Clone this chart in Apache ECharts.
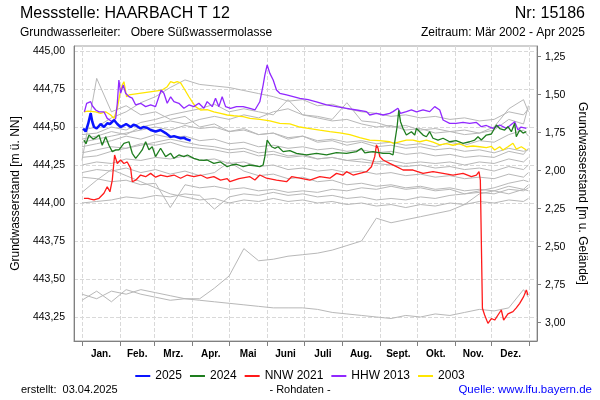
<!DOCTYPE html>
<html>
<head>
<meta charset="utf-8">
<script src="https://cdn.jsdelivr.net/npm/echarts@6/dist/echarts.min.js"></script>
<style>
    html, body { margin: 0; padding: 0; background: #fff; }
    #chart { width: 600px; height: 400px; }
</style>
</head>
<body>
<div id="chart"></div>
<script>
    // Achsen: Tag im Jahr (0 = 1. Jan.)
    const monthStarts = [0, 31, 59, 90, 120, 151, 181, 212, 243, 273, 304, 334, 365];
    const monthMids = [15.5, 45, 74.5, 105, 135.5, 166, 196.5, 227.5, 258, 288.5, 319, 349.5];
    const monthNames = ['Jan.', 'Feb.', 'Mrz.', 'Apr.', 'Mai', 'Juni', 'Juli', 'Aug.', 'Sept.', 'Okt.', 'Nov.', 'Dez.'];
    const levelTicks = [443.25, 443.5, 443.75, 444, 444.25, 444.5, 444.75, 445];
    const depthTicks = [1.25, 1.5, 1.75, 2, 2.25, 2.5, 2.75, 3];
    const groundLevel = 446.2125;
    const levelMin = 443.092;
    const levelMax = 445.033;

    // Jahresgänge aller übrigen Jahre (grau), gemeinsames Tagesraster
    const greyDays = [0, 12, 24, 36, 48, 60, 72, 84, 96, 108, 120, 132, 144, 156, 168, 180, 192, 204, 216, 228, 240, 252, 264, 276, 288, 300, 312, 324, 336, 348, 360, 364];
    const grey01 = [444.28, 444.82, 444.60, 444.64, 444.58, 444.60, 444.55, 444.57, 444.50, 444.52, 444.47, 444.49, 444.45, 444.46, 444.42, 444.44, 444.40, 444.41, 444.38, 444.40, 444.37, 444.38, 444.36, 444.37, 444.35, 444.36, 444.34, 444.35, 444.33, 444.36, 444.34, 444.35];
    const grey02 = [444.48, 444.50, 444.56, 444.60, 444.66, 444.70, 444.76, 444.81, 444.78, 444.77, 444.76, 444.74, 444.72, 444.70, 444.67, 444.68, 444.64, 444.65, 444.62, 444.60, 444.59, 444.57, 444.58, 444.56, 444.57, 444.55, 444.56, 444.54, 444.55, 444.60, 444.58, 444.62];
    const grey03 = [444.45, 444.46, 444.50, 444.48, 444.53, 444.55, 444.58, 444.60, 444.62, 444.65, 444.60, 444.62, 444.60, 444.58, 444.68, 444.58, 444.57, 444.55, 444.66, 444.54, 444.53, 444.50, 444.51, 444.48, 444.49, 444.47, 444.48, 444.46, 444.50, 444.62, 444.68, 444.60];
    const grey04 = [444.42, 444.44, 444.47, 444.45, 444.50, 444.52, 444.54, 444.52, 444.55, 444.57, 444.55, 444.58, 444.56, 444.60, 444.62, 444.58, 444.56, 444.54, 444.55, 444.52, 444.50, 444.51, 444.48, 444.49, 444.46, 444.47, 444.45, 444.46, 444.48, 444.55, 444.52, 444.64];
    const grey05 = [444.40, 444.42, 444.44, 444.46, 444.48, 444.50, 444.48, 444.51, 444.49, 444.50, 444.47, 444.48, 444.45, 444.46, 444.43, 444.44, 444.41, 444.42, 444.40, 444.41, 444.39, 444.40, 444.38, 444.39, 444.37, 444.40, 444.38, 444.41, 444.40, 444.45, 444.48, 444.44];
    const grey06 = [444.37, 444.39, 444.41, 444.44, 444.42, 444.45, 444.43, 444.44, 444.41, 444.42, 444.39, 444.40, 444.37, 444.38, 444.36, 444.37, 444.35, 444.36, 444.34, 444.35, 444.33, 444.34, 444.32, 444.33, 444.31, 444.32, 444.30, 444.31, 444.30, 444.34, 444.32, 444.36];
    const grey07 = [444.33, 444.35, 444.37, 444.36, 444.39, 444.38, 444.40, 444.37, 444.36, 444.35, 444.33, 444.34, 444.31, 444.32, 444.30, 444.31, 444.29, 444.30, 444.28, 444.29, 444.27, 444.28, 444.26, 444.27, 444.26, 444.27, 444.25, 444.27, 444.26, 444.29, 444.27, 444.30];
    const grey08 = [444.30, 444.31, 444.34, 444.36, 444.38, 444.40, 444.42, 444.40, 444.38, 444.37, 444.35, 444.36, 444.33, 444.34, 444.31, 444.32, 444.29, 444.30, 444.28, 444.27, 444.26, 444.25, 444.24, 444.25, 444.23, 444.24, 444.22, 444.23, 444.21, 444.24, 444.22, 444.25];
    const grey09 = [444.25, 444.27, 444.26, 444.29, 444.28, 444.30, 444.29, 444.31, 444.28, 444.29, 444.26, 444.27, 444.24, 444.25, 444.22, 444.23, 444.21, 444.22, 444.20, 444.21, 444.19, 444.20, 444.18, 444.19, 444.17, 444.18, 444.16, 444.17, 444.16, 444.19, 444.17, 444.20];
    const grey10 = [444.20, 444.22, 444.21, 444.23, 444.20, 444.22, 444.19, 444.21, 444.18, 444.20, 444.27, 444.21, 444.18, 444.19, 444.16, 444.17, 444.14, 444.15, 444.12, 444.13, 444.11, 444.12, 444.10, 444.11, 444.09, 444.10, 444.08, 444.09, 444.08, 444.11, 444.09, 444.12];
    const grey11 = [444.17, 444.16, 444.14, 444.15, 444.12, 444.13, 443.97, 444.12, 444.10, 444.11, 444.09, 444.10, 444.08, 444.09, 444.07, 444.08, 444.07, 444.09, 444.08, 444.10, 444.09, 444.11, 444.09, 444.10, 444.08, 444.09, 444.06, 444.07, 444.06, 444.09, 444.08, 444.10];
    const grey12 = [444.07, 444.15, 444.22, 444.18, 444.14, 444.10, 444.06, 444.04, 444.02, 444.03, 444.00, 444.02, 444.01, 444.03, 444.01, 444.02, 444.00, 444.01, 443.99, 444.00, 443.98, 443.99, 443.97, 443.99, 443.98, 444.00, 443.99, 444.01, 444.00, 444.02, 444.01, 444.03];
    const grey13 = [444.00, 444.01, 444.02, 444.04, 444.03, 444.05, 444.04, 444.06, 444.05, 443.96, 444.04, 444.06, 444.05, 444.07, 444.05, 444.06, 444.04, 444.05, 444.03, 444.04, 444.02, 444.03, 444.02, 444.04, 444.03, 444.05, 444.06, 444.08, 444.10, 444.13, 444.15, 444.14];
    const grey14 = [443.40, 443.37, 443.42, 443.40, 443.43, 443.41, 443.39, 443.37, 443.37, 443.44, 443.52, 443.70, 443.62, 443.63, 443.65, 443.66, 443.67, 443.69, 443.72, 443.75, 443.90, 443.87, 443.89, 443.91, 443.93, 443.95, 443.99, 444.06, 444.08, 444.06, 444.09, 444.08];
    const grey15 = [443.36, 443.42, 443.35, 443.43, 443.40, 443.38, 443.36, 443.37, 443.36, 443.35, 443.34, 443.33, 443.32, 443.31, 443.31, 443.31, 443.30, 443.28, 443.27, 443.26, 443.25, 443.24, 443.26, 443.25, 443.27, 443.26, 443.28, 443.30, 443.29, 443.31, 443.43, 443.38];
    const greyYears = [grey01, grey02, grey03, grey04, grey05, grey06, grey07, grey08, grey09, grey10, grey11, grey12, grey13, grey14, grey15];

    // hervorgehobene Jahre: [Tag, Wasserstand m ü. NN]
    const year2025 = [[1, 444.49], [3, 444.47], [5, 444.52], [7.1, 444.59], [8.4, 444.535], [9.8, 444.50], [12, 444.49], [15.2, 444.52], [17.9, 444.50], [20.6, 444.525], [23, 444.52], [26.1, 444.546], [28.8, 444.52], [31.5, 444.50], [34, 444.51], [36, 444.52], [39.7, 444.50], [42, 444.515], [44, 444.51], [47.8, 444.49], [50, 444.50], [53, 444.495], [56, 444.48], [60, 444.47], [64.1, 444.48], [68.2, 444.46], [72.3, 444.435], [75, 444.44], [80.4, 444.426], [83.1, 444.43], [85, 444.42], [88.6, 444.41]];
    const year2024 = [[1.6, 444.414], [3.3, 444.39], [5.7, 444.447], [9, 444.42], [11.5, 444.43], [13.9, 444.447], [16.5, 444.38], [19.3, 444.436], [22, 444.38], [24.7, 444.338], [27.5, 444.35], [30.1, 444.349], [34.2, 444.392], [38.3, 444.403], [41, 444.327], [43.8, 444.294], [46.4, 444.32], [49.1, 444.349], [51.9, 444.403], [54.6, 444.35], [57.3, 444.37], [60, 444.305], [64.1, 444.36], [68.2, 444.305], [72.3, 444.327], [75, 444.294], [79, 444.316], [83.1, 444.305], [86, 444.316], [91.2, 444.294], [95.3, 444.283], [99.4, 444.28], [102, 444.283], [107.5, 444.261], [113, 444.27], [118.4, 444.239], [122, 444.25], [126, 444.255], [131.4, 444.239], [136, 444.25], [141, 444.245], [145, 444.239], [147.7, 444.25], [149.1, 444.305], [151, 444.414], [152.6, 444.426], [154.6, 444.37], [157.2, 444.36], [159.9, 444.37], [164, 444.338], [169.5, 444.345], [174.9, 444.327], [183.1, 444.316], [191.2, 444.327], [199.4, 444.316], [207.5, 444.332], [215.7, 444.327], [223.8, 444.338], [227.9, 444.36], [230.6, 444.33], [237.3, 444.338], [245.5, 444.327], [250.9, 444.327], [253.6, 444.316], [255, 444.40], [256.9, 444.50], [258.3, 444.61], [259.7, 444.535], [261.8, 444.49], [264.5, 444.447], [268.6, 444.469], [271.3, 444.447], [272.7, 444.49], [275.4, 444.469], [278.1, 444.447], [280.8, 444.436], [283.5, 444.469], [286.2, 444.426], [290.3, 444.414], [294.4, 444.426], [299.8, 444.403], [305, 444.41], [310.7, 444.393], [316.1, 444.403], [320.2, 444.414], [322.9, 444.436], [325.6, 444.414], [329.7, 444.447], [333.8, 444.454], [337.9, 444.513], [340.6, 444.49], [344.6, 444.48], [347.3, 444.502], [350.1, 444.469], [352.8, 444.524], [354.1, 444.436], [356.9, 444.48], [359.6, 444.46], [362.3, 444.469]];
    const nnw2021 = [[1.6, 444.031], [5, 444.03], [7, 444.025], [9.8, 444.02], [13.9, 444.031], [17.9, 444.064], [20.6, 444.107], [22.8, 444.074], [24.7, 444.15], [26.6, 444.316], [28.8, 444.26], [31.5, 444.283], [34.2, 444.26], [36.9, 444.27], [39.7, 444.228], [41, 444.14], [43.8, 444.15], [47.8, 444.184], [51.9, 444.173], [56, 444.195], [60, 444.17], [64.1, 444.184], [69.5, 444.173], [75, 444.184], [80.4, 444.163], [85.8, 444.184], [91.2, 444.173], [96.7, 444.184], [102.1, 444.163], [107.5, 444.173], [113, 444.151], [118.4, 444.16], [120.6, 444.14], [128, 444.16], [136.9, 444.173], [141, 444.151], [145, 444.184], [150.5, 444.163], [158.6, 444.151], [166.8, 444.14], [170.9, 444.173], [177.6, 444.163], [185.8, 444.151], [193.9, 444.173], [202.1, 444.163], [207.5, 444.195], [212.9, 444.184], [215.7, 444.206], [221, 444.184], [226.5, 444.195], [232, 444.206], [236, 444.239], [238.7, 444.305], [240.1, 444.382], [241.4, 444.36], [242.8, 444.305], [245.5, 444.283], [250.9, 444.261], [256.4, 444.239], [261.8, 444.217], [269.9, 444.217], [278.1, 444.195], [286.2, 444.206], [294.4, 444.195], [302.5, 444.184], [310.7, 444.195], [317.5, 444.173], [321.6, 444.184], [323.7, 444.206], [324.8, 444.151], [326.5, 443.307], [328.3, 443.263], [331, 443.208], [333.8, 443.24], [336.5, 443.23], [339.2, 443.263], [341.9, 443.296], [343.8, 443.23], [347.3, 443.27], [351.4, 443.285], [354.1, 443.31], [356.9, 443.34], [360.1, 443.384], [362.3, 443.428], [363.6, 443.395]];
    const hhw2013 = [[2, 444.60], [3.8, 444.656], [5, 444.645], [7.1, 444.667], [8.4, 444.64], [11.2, 444.612], [13.9, 444.60], [17.9, 444.60], [20.6, 444.557], [24.7, 444.535], [27.5, 444.557], [28.8, 444.656], [30.1, 444.809], [31.5, 444.722], [33.6, 444.776], [35.6, 444.722], [38.3, 444.70], [41, 444.69], [43.8, 444.645], [47.8, 444.656], [51.9, 444.634], [56, 444.645], [60, 444.634], [62.7, 444.699], [64.6, 444.743], [66.8, 444.722], [69.5, 444.656], [72.3, 444.699], [75, 444.667], [79, 444.656], [83.1, 444.623], [87.2, 444.645], [91.2, 444.634], [95.3, 444.656], [99.4, 444.623], [102.1, 444.667], [106.2, 444.634], [108.9, 444.689], [111.6, 444.634], [114.3, 444.699], [117.1, 444.634], [121.2, 444.623], [126, 444.634], [131.4, 444.634], [136.9, 444.623], [141, 444.612], [145, 444.666], [147.7, 444.776], [149.1, 444.842], [151, 444.908], [153.2, 444.853], [155.9, 444.809], [158.6, 444.743], [161.3, 444.722], [166.8, 444.711], [172.2, 444.70], [177.6, 444.689], [184.4, 444.68], [191.2, 444.666], [199.4, 444.645], [207.5, 444.634], [215.7, 444.623], [223.8, 444.612], [232, 444.601], [234.6, 444.579], [240.1, 444.59], [245.5, 444.579], [250.9, 444.59], [253.6, 444.601], [257.6, 444.623], [259.7, 444.59], [264.5, 444.601], [268.6, 444.612], [272.7, 444.60], [278.1, 444.612], [283.5, 444.601], [287.6, 444.634], [291.7, 444.612], [294.4, 444.546], [299.8, 444.524], [305, 444.524], [310.7, 444.53], [316.1, 444.524], [321.6, 444.53], [325.6, 444.502], [329.7, 444.51], [335.1, 444.491], [340.6, 444.513], [346, 444.491], [349, 444.51], [352.8, 444.535], [355.5, 444.48], [358, 444.50], [362.3, 444.491]];
    const year2003 = [[1.6, 444.60], [5, 444.605], [11.2, 444.60], [15.2, 444.59], [19.3, 444.60], [23.4, 444.579], [26.1, 444.557], [28.8, 444.623], [31, 444.722], [32.8, 444.776], [34.2, 444.798], [36.4, 444.699], [38.3, 444.711], [65.4, 444.743], [69.5, 444.765], [72.3, 444.798], [75, 444.79], [77.6, 444.798], [80.4, 444.79], [83.1, 444.755], [87.2, 444.699], [89.9, 444.666], [92.6, 444.634], [96.7, 444.612], [102.1, 444.614], [107.5, 444.60], [113, 444.59], [118.4, 444.579], [123.8, 444.574], [131.4, 444.568], [136.9, 444.557], [145, 444.55], [153.2, 444.54], [161.3, 444.524], [169.5, 444.52], [177.6, 444.50], [185.8, 444.49], [193.9, 444.48], [202.1, 444.47], [210.2, 444.462], [218.4, 444.45], [226.5, 444.43], [234.6, 444.414], [242.8, 444.41], [250.9, 444.403], [253.6, 444.393], [258, 444.40], [264.5, 444.414], [269.9, 444.414], [275.4, 444.403], [280.8, 444.414], [286.2, 444.40], [291.7, 444.382], [297.1, 444.39], [302.5, 444.38], [308, 444.39], [313.4, 444.37], [318.8, 444.375], [324.3, 444.37], [329.7, 444.365], [333.8, 444.372], [336.5, 444.349], [340.6, 444.37], [343.2, 444.349], [347.3, 444.37], [351.4, 444.393], [354.1, 444.355], [358.2, 444.37], [362.3, 444.349]];

    const chart = echarts.init(document.getElementById('chart'), null, { renderer: 'canvas' });
    const fmt = v => v.toFixed(2).replace('.', ',');
    const font = 'Liberation Sans';

    let seriesArr = greyYears.map((vals, i) => {
        return {
            type: 'line',
            name: 'grau' + i,
            data: vals.map((v, k) => [greyDays[k], v]),
            showSymbol: false,
            silent: true,
            lineStyle: { color: '#b8b8b8', width: 1 },
            z: 1
        };
    });
    const highlight = [
        { name: '2003', data: year2003, color: '#ffe600', width: 1.3 },
        { name: 'HHW 2013', data: hhw2013, color: '#9128ff', width: 1.3 },
        { name: 'NNW 2021', data: nnw2021, color: '#ff1a1a', width: 1.3 },
        { name: '2024', data: year2024, color: '#1e7d1e', width: 1.3 },
        { name: '2025', data: year2025, color: '#0a14ff', width: 2.5 }
    ];
    highlight.forEach((s, i) => {
        seriesArr.push({
            type: 'line',
            name: s.name,
            data: s.data,
            showSymbol: false,
            color: s.color,
            lineStyle: { color: s.color, width: s.width },
            z: 2 + i
        });
    });

    const textBase = { fontFamily: font, color: '#000', fontWeight: 'normal' };
    const option = {
        animation: false,
        backgroundColor: '#fff',
        textStyle: { fontFamily: font },
        title: [
            { text: 'Messstelle: HAARBACH T 12', left: 20, top: 6, padding: 0, textStyle: Object.assign({}, textBase, { fontSize: 16 }) },
            { text: 'Nr: 15186', right: 15, top: 6, padding: 0, textStyle: Object.assign({}, textBase, { fontSize: 16 }) },
            { text: 'Grundwasserleiter:   Obere Süßwassermolasse', left: 20, top: 27, padding: 0, textStyle: Object.assign({}, textBase, { fontSize: 12 }) },
            { text: 'Zeitraum: Mär 2002 - Apr 2025', right: 15, top: 27, padding: 0, textStyle: Object.assign({}, textBase, { fontSize: 12 }) },
            { text: 'erstellt:  03.04.2025', left: 21, top: 384, padding: 0, textStyle: Object.assign({}, textBase, { fontSize: 11 }) },
            { text: '- Rohdaten -', left: 'center', top: 384, padding: 0, textStyle: Object.assign({}, textBase, { fontSize: 11 }) },
            { text: 'Quelle: www.lfu.bayern.de', right: 8, top: 384, padding: 0, textStyle: Object.assign({}, textBase, { fontSize: 11.5, color: '#0000ff' }) }
        ],
        legend: {
            data: ['2025', '2024', 'NNW 2021', 'HHW 2013', '2003'],
            top: 370,
            left: 'center',
            icon: 'rect',
            itemWidth: 15,
            itemHeight: 2,
            itemGap: 8,
            padding: 0,
            textStyle: { fontFamily: font, fontSize: 12, color: '#000' }
        },
        grid: {
            left: 74, right: 63, top: 46, bottom: 59,
            show: true, borderColor: '#a0a0a0', borderWidth: 1
        },
        xAxis: {
            type: 'value',
            min: -6.5,
            max: 371,
            axisLine: { onZero: false, lineStyle: { color: '#808080' } },
            axisTick: { customValues: monthStarts, length: 5, lineStyle: { color: '#808080' } },
            axisLabel: {
                customValues: monthMids,
                formatter: v => monthNames[monthMids.indexOf(v)],
                fontFamily: font, fontSize: 10, fontWeight: 'bold', color: '#000', margin: 8
            },
            splitLine: { show: true, lineStyle: { type: 'dashed', color: '#d9d9d9' } }
        },
        yAxis: [
            {
                type: 'value',
                position: 'left',
                min: levelMin,
                max: levelMax,
                axisLine: { show: true, onZero: false, lineStyle: { color: '#808080' } },
                axisTick: { show: false, customValues: levelTicks },
                axisLabel: { customValues: levelTicks, formatter: fmt, fontFamily: font, fontSize: 10.5, color: '#000', margin: 9 },
                splitLine: { show: true, lineStyle: { type: 'dashed', color: '#d9d9d9' } },
                name: 'Grundwasserstand [m ü. NN]',
                nameLocation: 'middle',
                nameGap: 46,
                nameTextStyle: { fontFamily: font, fontSize: 12, color: '#000' }
            },
            {
                type: 'value',
                position: 'right',
                inverse: true,
                min: groundLevel - levelMax,
                max: groundLevel - levelMin,
                axisLine: { show: true, onZero: false, lineStyle: { color: '#808080' } },
                axisTick: { show: true, customValues: depthTicks, length: 4, lineStyle: { color: '#808080' } },
                axisLabel: { customValues: depthTicks, formatter: fmt, fontFamily: font, fontSize: 10.5, color: '#000', margin: 8 },
                splitLine: { show: false },
                name: 'Grundwasserstand [m u. Gelände]',
                nameLocation: 'middle',
                nameRotate: -90,
                nameGap: 38,
                nameTextStyle: { fontFamily: font, fontSize: 12, color: '#000' }
            }
        ],
        series: seriesArr
    };
    chart.setOption(option);
</script>
</body>
</html>
